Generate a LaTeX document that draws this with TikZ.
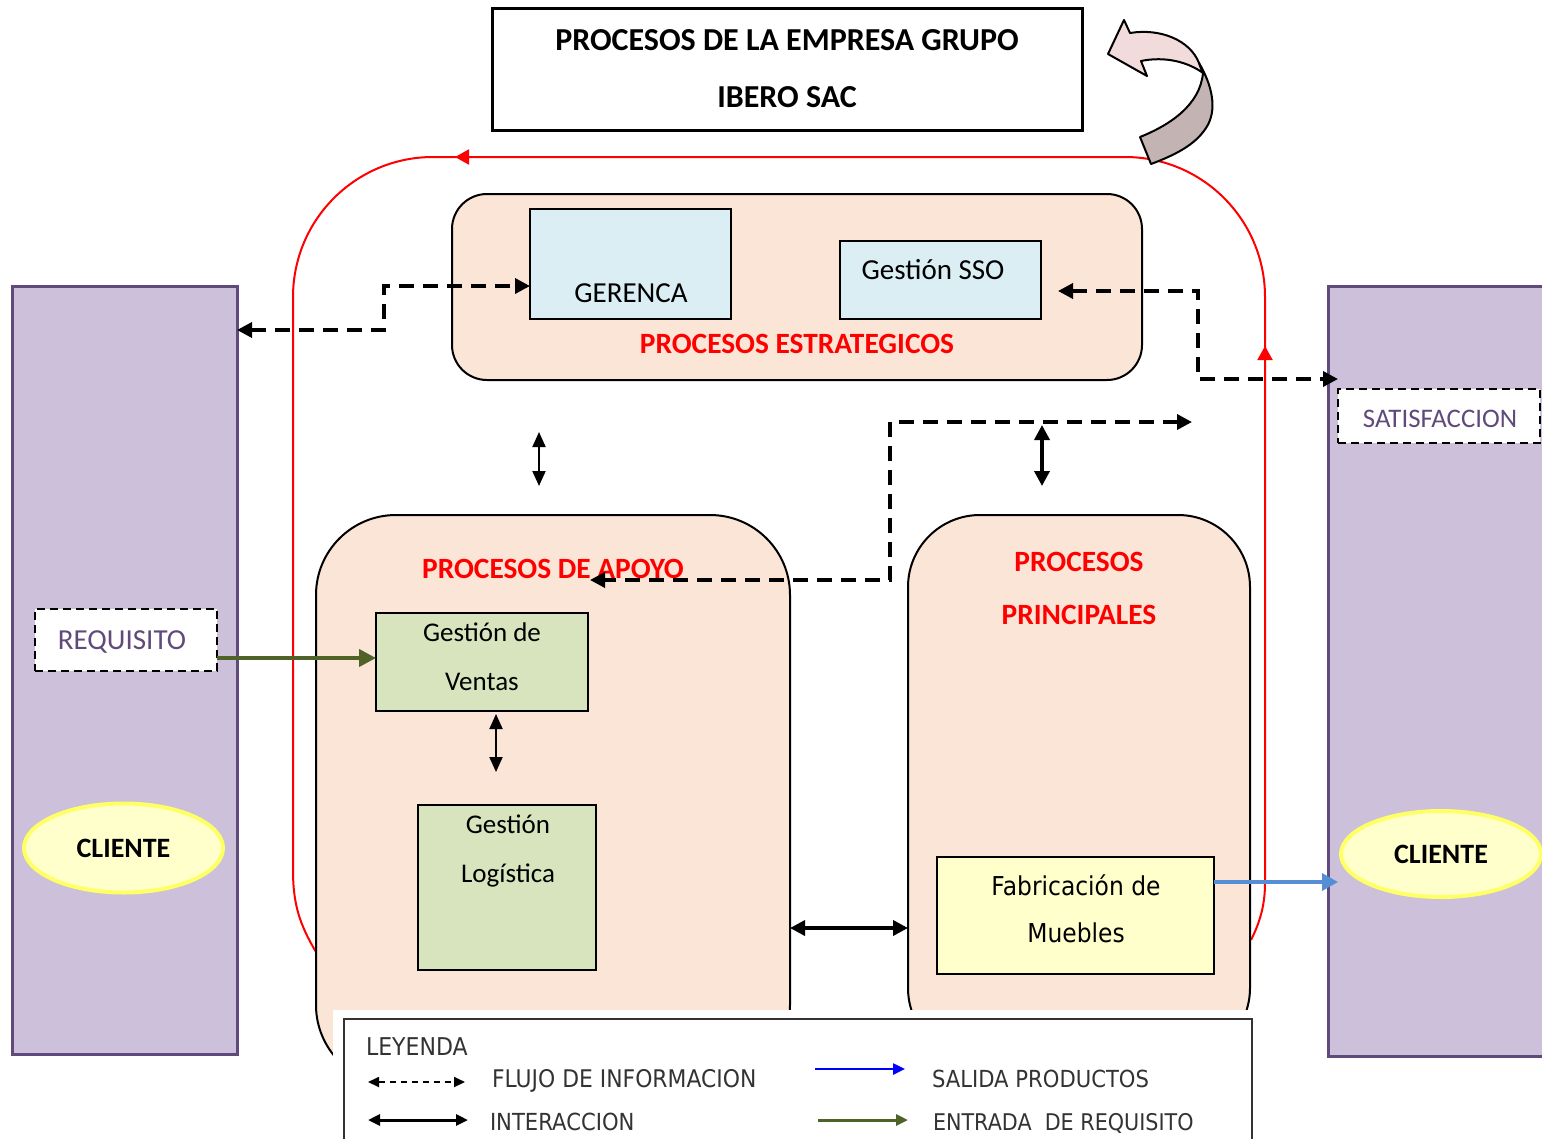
\documentclass[tikz,border=0pt]{standalone}
\usepackage{fontspec}
\setmainfont{Carlito}
\newfontfamily\tah[FakeStretch=0.9]{DejaVu Sans}
\usetikzlibrary{shapes.geometric,arrows.meta}
\newcommand\myfs[1]{\fontsize{#1}{#1}\selectfont}
\definecolor{peach}{HTML}{FBE5D6}
\definecolor{lblue}{HTML}{DAEEF3}
\definecolor{lgreen}{HTML}{D7E4BD}
\definecolor{lyellow}{HTML}{FFFFCC}
\definecolor{lilac}{HTML}{CCC0DA}
\definecolor{purp}{HTML}{604A7B}
\definecolor{olive}{HTML}{4F6228}
\definecolor{sblue}{HTML}{558ED5}
\definecolor{ylw}{HTML}{FFFF66}
\definecolor{arrlight}{HTML}{F2DCDB}
\definecolor{arrdark}{HTML}{C4B3B3}
\definecolor{legtxt}{HTML}{333333}
\begin{document}
\begin{tikzpicture}[x=1pt,y=-1pt,
  every node/.style={inner sep=0pt, outer sep=0pt},
  titlebox/.style={draw=black, line width=3pt, fill=white},
  procbox/.style={draw=black, line width=2pt, fill=peach},
  bluebox/.style={draw=black, line width=2pt, fill=lblue},
  greenbox/.style={draw=black, line width=2pt, fill=lgreen},
  yelbox/.style={draw=black, line width=2pt, fill=lyellow},
  colbox/.style={draw=purp, line width=3pt, fill=lilac},
  dashbox/.style={draw=black, line width=2.5pt, dash pattern=on 8pt off 5pt, fill=white, text=purp},
  clientell/.style={ellipse, draw=ylw, line width=4pt, fill=lyellow, font=\bfseries\myfs{28}},
  redtxt/.style={text=red, font=\bfseries\myfs{29.4}},
  boxtxt/.style={font=\myfs{27}, anchor=base},
  redline/.style={draw=red, line width=2pt},
  redtip/.style={red, line width=2pt, -{Triangle[length=14pt,width=15pt]}},
  dasharr/.style={line width=3.5pt, dash pattern=on 15pt off 9pt, {Triangle[length=15pt,width=15pt]}-{Triangle[length=15pt,width=15pt]}},
  thinarr/.style={line width=2pt, {Triangle[length=15pt,width=13pt]}-{Triangle[length=15pt,width=13pt]}},
  thickarr/.style={line width=3.5pt, {Triangle[length=15pt,width=15pt]}-{Triangle[length=15pt,width=15pt]}},
  greenarr/.style={draw=olive, line width=4pt, -{Triangle[length=17pt,width=17pt]}},
  bluearr/.style={draw=sblue, line width=3.5pt, -{Triangle[length=16pt,width=17pt]}},
  legtext/.style={text=legtxt, font=\tah\myfs{23.5}, anchor=base west},
]
\useasboundingbox (0,0) rectangle (1542,1138);
\clip (0,0) rectangle (1542,1138);
\fill[white] (0,0) rectangle (1542,1138);

% side columns
\node[colbox, minimum width=225pt, minimum height=768pt] (colL) at (124.5,670) {};
\node[colbox, minimum width=260pt, minimum height=770pt] (colR) at (1458,671) {};

% red loop
\draw[redline] (316,952) .. controls (300,925) and (293,905) .. (293,870) -- (293,297)
  arc[start angle=180, end angle=270, radius=140] -- (1125,157)
  arc[start angle=270, end angle=360, radius=140] -- (1265,883)
  .. controls (1265,905) and (1260,922) .. (1251,940);
\coordinate (rt1) at (480,157);
\coordinate (rt2) at (455,157);
\draw[redtip] (rt1) -- (rt2);
\coordinate (rr1) at (1265,372);
\coordinate (rr2) at (1265,346);
\draw[redtip] (rr1) -- (rr2);

% title
\node[titlebox, minimum width=590pt, minimum height=122pt] (title) at (787,69) {};
\node[font=\bfseries\myfs{32}, anchor=base] (tl1) at (787,50) {PROCESOS DE LA EMPRESA GRUPO};
\node[font=\bfseries\myfs{32}, anchor=base] (tl2) at (787,107) {IBERO SAC};

% curved block arrow
\draw[line width=2pt, fill=arrlight, line join=round]
  (1108,54) -- (1124,20) -- (1130,33) .. controls (1160,28) and (1190,40) .. (1199,63)
  -- (1203,73) .. controls (1188,62) and (1165,56) .. (1141,61) -- (1147,76) -- cycle;
\draw[line width=2pt, fill=arrdark, line join=round]
  (1199,63) .. controls (1212,85) and (1218,110) .. (1206,128)
  .. controls (1195,145) and (1175,155) .. (1151,164) -- (1140,137)
  .. controls (1170,125) and (1200,105) .. (1203,73) -- cycle;

% strategic processes
\node[procbox, rounded corners=35pt, minimum width=690pt, minimum height=186pt] (estr) at (797,287) {};
\node[bluebox, minimum width=201pt, minimum height=110pt] (ger) at (630.5,264) {};
\node[font=\myfs{29}, anchor=base] (gerT) at (631,302) {GERENCA};
\node[bluebox, minimum width=201pt, minimum height=78pt] (sso) at (940.5,280) {};
\node[font=\myfs{29}, anchor=base] (ssoT) at (933,279) {Gestión SSO};
\node[redtxt, anchor=base] (estrT) at (797,353) {PROCESOS ESTRATEGICOS};

% support processes
\node[procbox, rounded corners=80pt, minimum width=474pt, minimum height=570pt] (apoyo) at (553,800) {};
\node[redtxt, anchor=base] (apoyoT) at (553,578) {PROCESOS DE APOYO};
\node[greenbox, minimum width=212pt, minimum height=98pt] (ven) at (482,662) {};
\node[boxtxt] (venT1) at (482,641) {Gestión de};
\node[boxtxt] (venT2) at (482,690) {Ventas};
\node[greenbox, minimum width=178pt, minimum height=165pt] (log) at (507,887.5) {};
\node[boxtxt] (logT1) at (508,833) {Gestión};
\node[boxtxt] (logT2) at (508,882) {Logística};

% main processes
\node[procbox, rounded corners=72pt, minimum width=342pt, minimum height=545pt] (princ) at (1079,787.5) {};
\node[redtxt, anchor=base] (princT1) at (1079,571) {PROCESOS};
\node[redtxt, anchor=base] (princT2) at (1079,624) {PRINCIPALES};
\node[yelbox, minimum width=277pt, minimum height=117pt] (fab) at (1075.5,915.5) {};
\node[font=\tah\myfs{26}, anchor=base] (fabT1) at (1076,895) {Fabricación de};
\node[font=\tah\myfs{26}, anchor=base] (fabT2) at (1076,942) {Muebles};

% client side boxes
\node[dashbox, minimum width=182pt, minimum height=62pt] (req) at (126,640) {};
\node[font=\myfs{29}, text=purp, anchor=base] (reqT) at (122,649) {REQUISITO};
\node[clientell, minimum width=199pt, minimum height=89pt] (cliL) at (123.5,848) {CLIENTE};
\node[dashbox, minimum width=202pt, minimum height=54pt] (sat) at (1439,416) {};
\node[font=\myfs{26.8}, text=purp, anchor=base] (satT) at (1440,427) {SATISFACCION};
\node[clientell, minimum width=200pt, minimum height=86pt] (cliR) at (1441,854) {CLIENTE};

% information flows (dashed)
\coordinate (d1a) at ([yshift=-22pt]ger.west);
\draw[dasharr] (colL.east |- 0,330) -- (384,330) -- (384,286) -- (d1a);
\coordinate (d2a) at (1058,291);
\coordinate (d2b) at ([xshift=10pt]colR.west |- 0,379);
\draw[dasharr] (d2a) -- (1198,291) -- (1198,379) -- (d2b);
\coordinate (d3a) at (1192,422);
\coordinate (d3b) at (590,580);
\draw[dasharr] (d3a) -- (890,422) -- (890,580) -- (d3b);

% interactions
\coordinate (v1a) at (539,432); \coordinate (v1b) at (539,486);
\draw[thinarr] (v1a) -- (v1b);
\coordinate (v2a) at (1042,425); \coordinate (v2b) at (1042,486);
\draw[thickarr] (v2a) -- (v2b);
\coordinate (v3a) at (496,714); \coordinate (v3b) at (496,772);
\draw[thinarr] (v3a) -- (v3b);
\draw[thickarr] (apoyo.east |- 0,928) -- (princ.west |- 0,928);

% requirement in / product out
\draw[greenarr] (req.east |- 0,658) -- (ven.west |- 0,658);
\coordinate (bl) at ([yshift=-25pt]fab.north east);
\coordinate (br) at ([xshift=10pt]colR.west |- bl);
\draw[bluearr] (bl) -- (br);

% legend
\fill[white] (333,1010) rectangle (1258,1138);
\node[draw=black!80, line width=2pt, minimum width=908pt, minimum height=132pt] (leg) at (798,1085) {};
\node[legtext, font=\tah\myfs{24.5}] (lgT) at (366,1055) {LEYENDA};
\node[legtext, font=\tah\myfs{24.3}] (lg1) at (492,1087) {FLUJO DE INFORMACION};
\node[legtext] (lg2) at (490,1130) {INTERACCION};
\node[legtext] (lg3) at (932,1087) {SALIDA PRODUCTOS};
\node[legtext, font=\tah\myfs{23}] (lg4) at (933,1130) {ENTRADA\ \ DE REQUISITO};
\coordinate (la1) at (368,1082); \coordinate (la2) at (465,1082);
\draw[line width=1.8pt, dash pattern=on 6pt off 5pt, {Triangle[length=11pt,width=10pt]}-{Triangle[length=11pt,width=10pt]}] (la1) -- (la2);
\coordinate (lb1) at (368,1120); \coordinate (lb2) at (468,1120);
\draw[line width=3pt, {Triangle[length=12pt,width=11pt]}-{Triangle[length=12pt,width=11pt]}] (lb1) -- (lb2);
\coordinate (lc1) at (815,1069); \coordinate (lc2) at (905,1069);
\draw[draw=blue, line width=2.5pt, -{Triangle[length=12pt,width=11pt]}, blue] (lc1) -- (lc2);
\coordinate (ld1) at (818,1120); \coordinate (ld2) at (908,1120);
\draw[draw=olive, line width=3pt, -{Triangle[length=12pt,width=11pt]}, olive] (ld1) -- (ld2);
\end{tikzpicture}
\end{document}
